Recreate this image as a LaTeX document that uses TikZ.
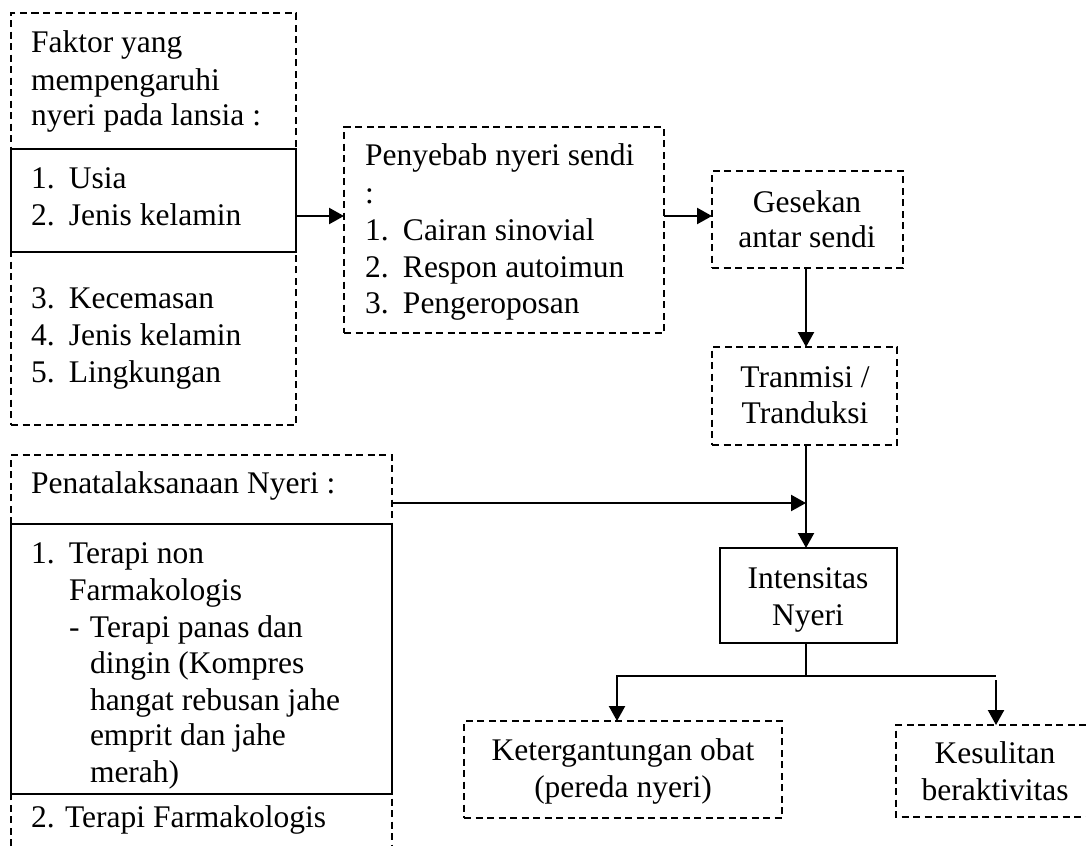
\documentclass[tikz,border=0pt]{standalone}
\usepackage{fontspec}
\setmainfont{Liberation Serif}
\usetikzlibrary{arrows.meta,fit}
\begin{document}
\begin{tikzpicture}[x=1pt,y=-1pt,
  txt/.style={font=\fontsize{31.5}{37}\selectfont, inner sep=0pt, outer sep=0pt},
  lt/.style={txt, anchor=base west},
  ct/.style={txt, anchor=base},
  frame/.style={inner sep=0pt, outer sep=0pt},
  dline/.style={dash pattern=on 7pt off 4.5pt, line width=1.8pt},
  dbox/.style={frame, draw, dline},
  sbox/.style={frame, draw, line width=2pt, fill=white},
  conn/.style={line width=2.3pt},
  arr/.style={conn, -{Triangle[length=15pt,width=16pt]}}
]
\useasboundingbox (0,0) rectangle (1086,846);
\newcommand{\numb}[1]{\makebox[38pt][l]{#1}}

% Box 1: factors
\node[dbox, fit={(11,13)(296,425)}] (fak) {};
\node[sbox, fit={(11,149)(296,252)}] (fakin) {};
\node[lt] (f1) at (31,52) {Faktor yang};
\node[lt] (f2) at (31,90) {mempengaruhi};
\node[lt] (f3) at (31,125) {nyeri pada lansia :};
\node[lt] (f4) at (31,188) {\numb{1.}Usia};
\node[lt] (f5) at (31,225) {\numb{2.}Jenis kelamin};
\node[lt] (f6) at (31,308) {\numb{3.}Kecemasan};
\node[lt] (f7) at (31,345) {\numb{4.}Jenis kelamin};
\node[lt] (f8) at (31,382) {\numb{5.}Lingkungan};

% Penyebab
\node[dbox, fit={(344,127)(664,333)}] (pen) {};
\node[lt] (p1) at (365,165) {Penyebab nyeri sendi};
\node[lt] (p2) at (365,203) {:};
\node[lt] (p3) at (365,240) {\numb{1.}Cairan sinovial};
\node[lt] (p4) at (365,277) {\numb{2.}Respon autoimun};
\node[lt] (p5) at (365,313) {\numb{3.}Pengeroposan};

% Gesekan
\node[dbox, fit={(712,171)(903,268)}] (ges) {};
\node[ct] (g1) at (807,212) {Gesekan};
\node[ct] (g2) at (807,247) {antar sendi};

% Tranmisi
\node[dbox, fit={(712,347)(897,445)}] (tra) {};
\node[ct] (r1) at (805,387) {Tranmisi /};
\node[ct] (r2) at (805,423) {Tranduksi};

% Intensitas
\node[sbox, fit={(720,548)(897,643)}] (ints) {};
\node[ct] (i1) at (808,588) {Intensitas};
\node[ct] (i2) at (808,625) {Nyeri};

% Penatalaksanaan (open at bottom)
\node[frame, fit={(11,455)(392,846)}] (pnt) {};
\draw[dline] (pnt.south west) -- (pnt.north west) -- (pnt.north east) -- (pnt.south east);
\node[sbox, fit={(11,524)(392,794)}] (pntin) {};
\node[lt] (n1) at (31,493) {Penatalaksanaan Nyeri :};
\node[lt] (n2) at (31,563) {\numb{1.}Terapi non};
\node[lt] (n3) at (69,600) {Farmakologis};
\node[lt] (n4) at (69,637) {\makebox[21pt][l]{-}Terapi panas dan};
\node[lt] (n5) at (90,673) {dingin (Kompres};
\node[lt] (n6) at (90,710) {hangat rebusan jahe};
\node[lt] (n7) at (90,745) {emprit dan jahe};
\node[lt] (n8) at (90,782) {merah)};
\node[lt] (n9) at (31,827) {2. Terapi Farmakologis};

% Ketergantungan
\node[dbox, fit={(464,721)(782,818)}] (ket) {};
\node[ct] (k1) at (623,760) {Ketergantungan obat};
\node[ct] (k2) at (623,797) {(pereda nyeri)};

% Kesulitan (open at right)
\node[frame, fit={(896,725)(1086,817)}] (kes) {};
\draw[dline] (kes.north east) -- (kes.north west) -- (kes.south west) -- (kes.south east);
\node[ct] (s1) at (995,763) {Kesulitan};
\node[ct] (s2) at (995,800) {beraktivitas};

% Connectors
\draw[arr] (fakin.east |- 0,216) -- (pen.west |- 0,216);
\draw[arr] (pen.east |- 0,216) -- (ges.west |- 0,216);
\draw[arr] ([xshift=-1.5pt]ges.south) -- ([xshift=-1.5pt]ges.south |- tra.north);
\draw[conn] ([xshift=-2.5pt]ints.north |- tra.south) -- ([xshift=-2.5pt]ints.north |- 0,503);
\draw[arr] ([xshift=-2.5pt]ints.north |- 0,503) -- ([xshift=-2.5pt]ints.north);
\draw[arr] (pnt.east |- 0,503) -- ([xshift=-2.5pt]ints.north |- 0,503);
\coordinate (br) at ([xshift=-2.5pt]ints.south |- 0,676);
\draw[line width=1.6pt] ([xshift=-2.5pt]ints.south) -- (br);
\draw[arr] (br) -- ([xshift=-6pt]ket.north |- br) -- ([xshift=-6pt]ket.north);
\draw[conn] (br) -- ([xshift=5pt]kes.north |- br);
\draw[arr] ([xshift=5pt]kes.north |- 0,680) -- ([xshift=5pt]kes.north);
\end{tikzpicture}
\end{document}
